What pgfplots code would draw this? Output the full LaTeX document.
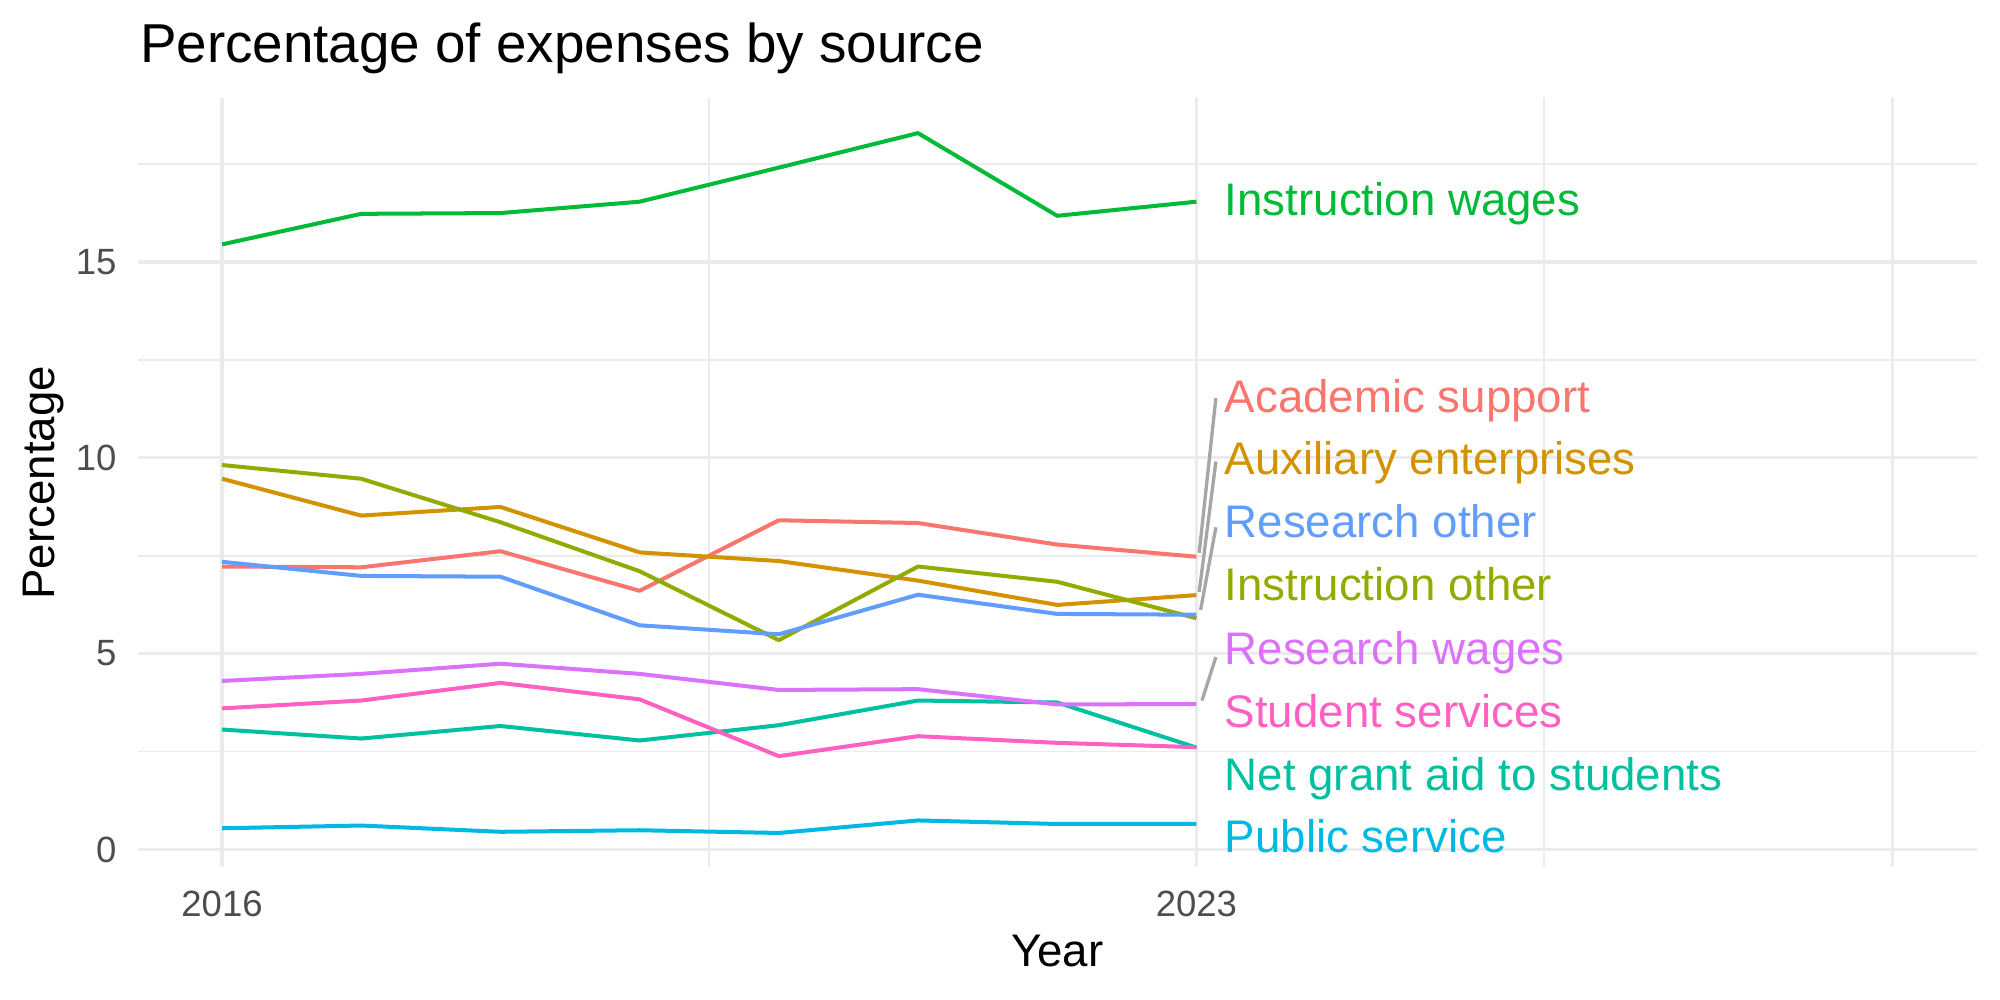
\documentclass[border=0pt]{standalone}
\usepackage{pgfplots}
\pgfplotsset{compat=1.18}
\usepackage{pgfplotstable}
\usepackage{fontspec}
\setmainfont{Liberation Sans}

\definecolor{cAcad}{HTML}{F8766D}
\definecolor{cAux}{HTML}{D39200}
\definecolor{cInstO}{HTML}{93AA00}
\definecolor{cInstW}{HTML}{00BA38}
\definecolor{cGrant}{HTML}{00C19F}
\definecolor{cPub}{HTML}{00B9E3}
\definecolor{cResO}{HTML}{619CFF}
\definecolor{cResW}{HTML}{DB72FB}
\definecolor{cStud}{HTML}{FF61C3}
\definecolor{gridc}{HTML}{EBEBEB}
\definecolor{tickc}{HTML}{4D4D4D}
\definecolor{segc}{HTML}{A6A6A6}

% share of expenses (%) per source, 2016-2023
\pgfplotstableread{
year acad aux insto instw grant pub reso resw stud
2016 7.22 9.46 9.81 15.44 3.06 0.54 7.34 4.30 3.60
2017 7.20 8.52 9.46 16.22 2.83 0.61 6.98 4.48 3.80
2018 7.61 8.74 8.35 16.24 3.15 0.45 6.96 4.74 4.25
2019 6.60 7.58 7.10 16.53 2.78 0.49 5.72 4.48 3.83
2020 8.40 7.36 5.34 17.40 3.17 0.42 5.49 4.07 2.38
2021 8.33 6.86 7.22 18.28 3.80 0.74 6.50 4.09 2.89
2022 7.78 6.24 6.83 16.17 3.75 0.65 6.01 3.70 2.72
2023 7.47 6.49 5.90 16.53 2.60 0.65 5.99 3.71 2.61
}\expenses

\newcommand{\lblfont}{\fontsize{16.5}{19}\selectfont}

\begin{document}
\begin{tikzpicture}
\path[use as bounding box] (-49.8pt,-47.95pt) rectangle (672.9pt,313.4pt);
\begin{axis}[
  at={(0,0)}, anchor=south west,
  scale only axis,
  width=664.6pt, height=277.9pt,
  xmin=2015.395, xmax=2028.608,
  ymin=-0.456, ymax=19.17,
  clip=false,
  axis line style={draw=none},
  major tick length=0pt, minor tick length=0pt,
  xtick={2016,2023,2028},
  xticklabels={2016,2023,},
  minor xtick={2019.5,2025.5},
  ytick={0,5,10,15},
  minor ytick={2.5,7.5,12.5,17.5},
  grid=both,
  major grid style={draw=gridc, line width=1.35pt},
  minor grid style={draw=gridc, line width=0.7pt},
  /pgf/number format/assume math mode=true,
  /pgf/number format/set thousands separator={},
  tick label style={font=\fontsize{13.2}{15}\selectfont, text=tickc, inner sep=0pt},
  xticklabel style={anchor=north, yshift=-8.2pt},
  yticklabel style={anchor=east, xshift=-7.5pt},
  every axis plot/.append style={line width=1.45pt, line join=round},
]
\addplot[cAcad]  table[x=year, y=acad]  {\expenses};
\addplot[cAux]   table[x=year, y=aux]   {\expenses};
\addplot[cInstO] table[x=year, y=insto] {\expenses};
\addplot[cInstW] table[x=year, y=instw] {\expenses};
\addplot[cGrant] table[x=year, y=grant] {\expenses};
\addplot[cPub]   table[x=year, y=pub]   {\expenses};
\addplot[cResO]  table[x=year, y=reso]  {\expenses};
\addplot[cResW]  table[x=year, y=resw]  {\expenses};
\addplot[cStud]  table[x=year, y=stud]  {\expenses};

% leader segments to the repelled labels
\addplot[segc, line width=1.2pt] coordinates {(2023.02,7.57) (2023.14,11.52)};
\addplot[segc, line width=1.2pt] coordinates {(2023.02,6.57) (2023.14,9.90)};
\addplot[segc, line width=1.2pt] coordinates {(2023.03,6.11) (2023.14,8.22)};
\addplot[segc, line width=1.2pt] coordinates {(2023.04,3.80) (2023.14,4.91)};

% series labels
\node[anchor=base west, inner sep=0pt, text=cInstW, font=\lblfont] at (axis cs:2023.2,16.18) {Instruction wages};
\node[anchor=base west, inner sep=0pt, text=cAcad,  font=\lblfont] at (axis cs:2023.2,11.16) {Academic support};
\node[anchor=base west, inner sep=0pt, text=cAux,   font=\lblfont] at (axis cs:2023.2,9.56) {Auxiliary enterprises};
\node[anchor=base west, inner sep=0pt, text=cResO,  font=\lblfont] at (axis cs:2023.2,7.95) {Research other};
\node[anchor=base west, inner sep=0pt, text=cInstO, font=\lblfont] at (axis cs:2023.2,6.35) {Instruction other};
\node[anchor=base west, inner sep=0pt, text=cResW,  font=\lblfont] at (axis cs:2023.2,4.73) {Research wages};
\node[anchor=base west, inner sep=0pt, text=cStud,  font=\lblfont] at (axis cs:2023.2,3.12) {Student services};
\node[anchor=base west, inner sep=0pt, text=cGrant, font=\lblfont] at (axis cs:2023.2,1.51) {Net grant aid to students};
\node[anchor=base west, inner sep=0pt, text=cPub,   font=\lblfont] at (axis cs:2023.2,-0.08) {Public service};

% titles
\node[anchor=base west, inner sep=0pt, font=\fontsize{19.8}{23}\selectfont] at ([xshift=0.6pt, yshift=12.9pt]rel axis cs:0,1) {Percentage of expenses by source};
\node[anchor=base, inner sep=0pt, font=\lblfont] at ([yshift=-35.9pt]rel axis cs:0.5,0) {Year};
\node[anchor=base, inner sep=0pt, rotate=90, font=\lblfont] at ([xshift=-30pt]rel axis cs:0,0.5) {Percentage};
\end{axis}
\end{tikzpicture}
\end{document}
